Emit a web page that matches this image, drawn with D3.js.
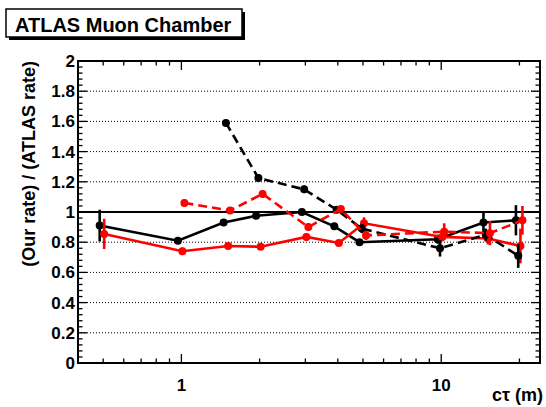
<!DOCTYPE html>
<html>
<head>
<meta charset="utf-8">
<script src="https://cdn.jsdelivr.net/npm/d3@7"></script>
<style>
  html, body { margin: 0; padding: 0; background: #fff; }
  svg { display: block; font-family: "Liberation Sans", Arial, Helvetica, sans-serif; }
</style>
</head>
<body>
<svg id="chart" width="546" height="407"></svg>
<script>
// ---- data ----
const xNominal = [0.5, 1, 1.5, 2, 3, 4, 5, 10, 15, 20];

const blackSolidX = [0.5, 1, 1.5, 2, 3, 4, 5, 10, 15, 20];
const blackSolidY = [0.91, 0.81, 0.93, 0.975, 1.0, 0.905, 0.80, 0.82, 0.93, 0.945];
const blackSolidErr = [0.105, 0.02, 0.02, 0.02, 0.02, 0.02, 0.02, 0.03, 0.075, 0.1];

const redSolidX = [0.5, 1, 1.5, 2, 3, 4, 5, 10, 15, 20];
const redSolidY = [0.855, 0.74, 0.775, 0.77, 0.835, 0.795, 0.925, 0.835, 0.825, 0.775];
const redSolidErr = [0.1, 0.025, 0.02, 0.02, 0.025, 0.02, 0.04, 0.03, 0.04, 0.115];

const blackDashedX = [1.5, 2, 3, 4, 5, 10, 15, 20];
const blackDashedY = [1.59, 1.225, 1.15, 1.015, 0.89, 0.76, 0.85, 0.71];
const blackDashedErr = [0.02, 0.025, 0.025, 0.02, 0.03, 0.055, 0.04, 0.08];

const redDashedX = [1, 1.5, 2, 3, 4, 5, 10, 15, 20];
const redDashedY = [1.06, 1.01, 1.12, 0.9, 1.02, 0.845, 0.87, 0.86, 0.945];
const redDashedErr = [0.025, 0.02, 0.025, 0.025, 0.02, 0.03, 0.055, 0.08, 0.095];

const xTickLabels = ["1", "10"];
const yTickLabels = ["0", "0.2", "0.4", "0.6", "0.8", "1", "1.2", "1.4", "1.6", "1.8", "2"];

const titleText = "ATLAS Muon Chamber";
const xTitle = "c\u03C4 (m)";
const yTitle = "(Our rate) / (ATLAS rate)";

// ---- layout ----
const L = 78, R = 540, T = 61, B = 363;
const svg = d3.select("#chart");

const x = d3.scaleLog().domain([0.4, 24]).range([L, R]);
const y = d3.scaleLinear().domain([0, 2]).range([B, T]);

// grid (dotted)
const gridVals = d3.range(1, 10).map(i => i * 0.2).filter(v => Math.abs(v - 1) > 1e-6);
svg.append("g").selectAll("line").data(gridVals).join("line")
  .attr("x1", L).attr("x2", R)
  .attr("y1", d => y(d)).attr("y2", d => y(d))
  .attr("stroke", "#000").attr("stroke-width", 1).attr("stroke-dasharray", "1,2");

// reference line at 1
svg.append("line").attr("x1", L).attr("x2", R).attr("y1", y(1)).attr("y2", y(1))
  .attr("stroke", "#000").attr("stroke-width", 2);

// ticks on all sides
const tickG = svg.append("g").attr("stroke", "#000").attr("stroke-width", 1.3);
const yMinor = d3.range(0, 51).map(i => i * 0.04);
yMinor.forEach((v, i) => {
  const len = (i % 5 === 0) ? 9 : 4.5;
  tickG.append("line").attr("x1", L).attr("x2", L + len).attr("y1", y(v)).attr("y2", y(v));
  tickG.append("line").attr("x1", R).attr("x2", R - len).attr("y1", y(v)).attr("y2", y(v));
});
const xMinor = [];
[0.1, 1, 10].forEach(dec => { for (let k = 1; k <= 9; k++) { const v = dec * k; if (v >= 0.4 && v <= 24) xMinor.push(v); } });
xMinor.forEach(v => {
  const major = Math.abs(Math.log10(v) - Math.round(Math.log10(v))) < 1e-9;
  const len = major ? 9 : 4.5;
  tickG.append("line").attr("x1", x(v)).attr("x2", x(v)).attr("y1", B).attr("y2", B - len);
  tickG.append("line").attr("x1", x(v)).attr("x2", x(v)).attr("y1", T).attr("y2", T + len);
});

// frame
svg.append("rect").attr("x", L).attr("y", T).attr("width", R - L).attr("height", B - T)
  .attr("fill", "none").attr("stroke", "#000").attr("stroke-width", 2);

// y tick labels
svg.append("g").selectAll("text").data(yTickLabels).join("text")
  .attr("x", 75).attr("y", d => y(+d) + 6)
  .attr("text-anchor", "end").attr("font-size", 17).attr("font-weight", "bold")
  .text(d => d);

// x tick labels
svg.append("g").selectAll("text").data(xTickLabels).join("text")
  .attr("x", d => x(+d)).attr("y", 391)
  .attr("text-anchor", "middle").attr("font-size", 17).attr("font-weight", "bold")
  .text(d => d);

// axis titles
svg.append("text").attr("x", 543).attr("y", 401).attr("text-anchor", "end")
  .attr("font-size", 18).attr("font-weight", "bold").text(xTitle);
svg.append("text").attr("transform", `translate(35,${T}) rotate(-90)`)
  .attr("text-anchor", "end").attr("font-size", 18).attr("font-weight", "bold").text(yTitle);

// title box
svg.append("rect").attr("x", 9).attr("y", 12).attr("width", 236).attr("height", 28).attr("fill", "#000");
svg.append("rect").attr("x", 6).attr("y", 9).attr("width", 236).attr("height", 28)
  .attr("fill", "#fff").attr("stroke", "#000").attr("stroke-width", 1.5);
svg.append("text").attr("x", 15).attr("y", 32).attr("font-size", 20).attr("font-weight", "bold").text(titleText);

// series
const series = [
  { xs: blackSolidX, ys: blackSolidY, es: blackSolidErr, color: "#000", dash: null, dx: -3.5 },
  { xs: redSolidX, ys: redSolidY, es: redSolidErr, color: "#ff0000", dash: null, dx: 1 },
  { xs: blackDashedX, ys: blackDashedY, es: blackDashedErr, color: "#000", dash: "9,5", dx: -1.2 },
  { xs: redDashedX, ys: redDashedY, es: redDashedErr, color: "#ff0000", dash: "9,5", dx: 3 }
];

series.forEach(s => {
  const pts = s.xs.map((xv, i) => ({ x: xv, y: s.ys[i], e: s.es[i] }));
  const g = svg.append("g");
  const line = d3.line().x(d => x(d.x) + s.dx).y(d => y(d.y));
  g.append("path").datum(pts).attr("d", line)
    .attr("fill", "none").attr("stroke", s.color).attr("stroke-width", 2.6)
    .attr("stroke-dasharray", s.dash);
  g.selectAll("line.err").data(pts).join("line").attr("class", "err")
    .attr("x1", d => x(d.x) + s.dx).attr("x2", d => x(d.x) + s.dx)
    .attr("y1", d => y(d.y - d.e)).attr("y2", d => y(d.y + d.e))
    .attr("stroke", s.color).attr("stroke-width", 2.6);
  g.selectAll("circle").data(pts).join("circle")
    .attr("cx", d => x(d.x) + s.dx).attr("cy", d => y(d.y)).attr("r", 4)
    .attr("fill", s.color);
});
</script>
</body>
</html>
